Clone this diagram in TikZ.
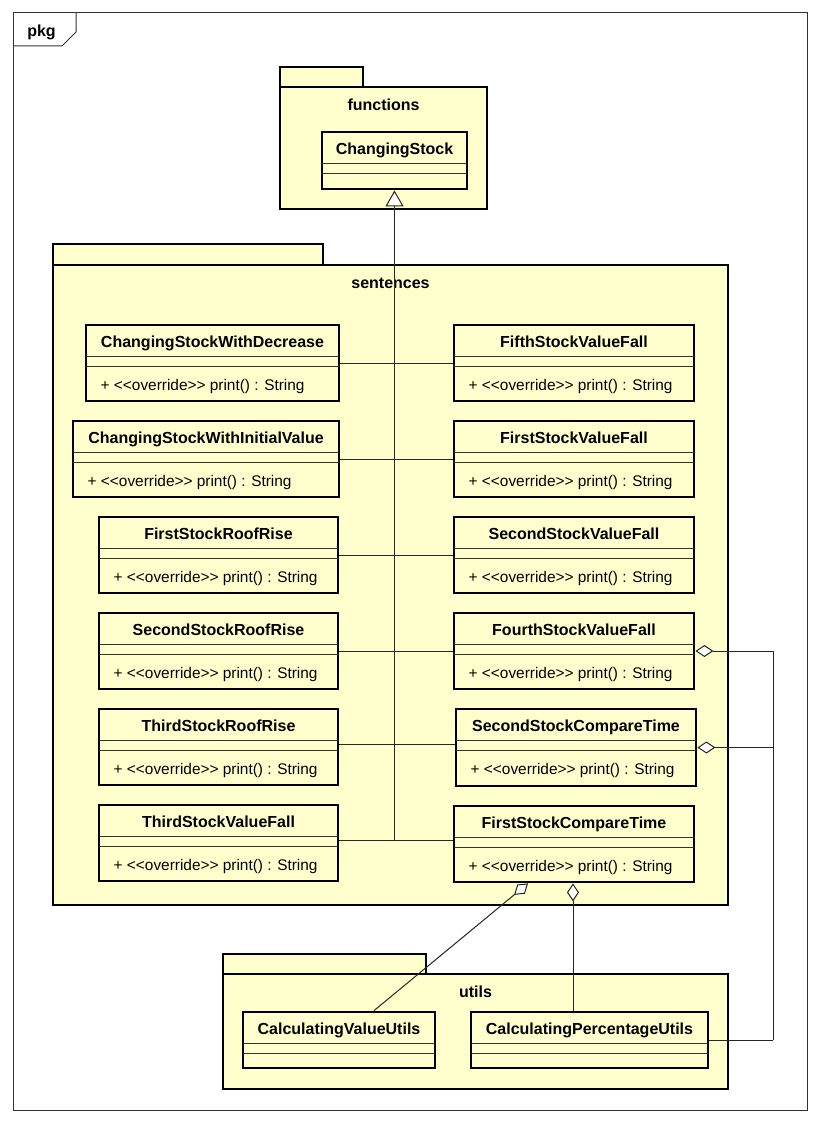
\documentclass[tikz,border=0pt]{standalone}
\usepackage{fontspec}
\setmainfont{Liberation Sans}
\usetikzlibrary{arrows.meta}
\definecolor{umlfill}{RGB}{255,255,206}

% operation text; the kerns keep the angle brackets from merging into guillemets
\newcommand\printop{+ <\kern0pt<override>\kern0pt> print() : String}

% class box with an empty attribute compartment and one operation
% #1 node name, #2 left, #3 top, #4 right, #5 bottom, #6 class name, #7 operation
\newcommand\umlclass[7]{%
  \node[classbox, minimum width={#4-#2}, minimum height={#5-#3}] (#1) at ({(#2+#4)/2},{(#3+#5)/2}) {};
  \draw[compline] (#2,{#3+31.5}) -- (#4,{#3+31.5});
  \draw[compline] (#2,{#3+41.5}) -- (#4,{#3+41.5});
  \node[classname] at ({(#2+#4)/2},{#3+22.5}) {#6};
  \node[optext] at ({#2+14.5},{#3+65}) {#7};
}
% class box with empty compartments only
\newcommand\umlclassplain[6]{%
  \node[classbox, minimum width={#4-#2}, minimum height={#5-#3}] (#1) at ({(#2+#4)/2},{(#3+#5)/2}) {};
  \draw[compline] (#2,{#3+31.5}) -- (#4,{#3+31.5});
  \draw[compline] (#2,{#3+41.5}) -- (#4,{#3+41.5});
  \node[classname] at ({(#2+#4)/2},{#3+22.5}) {#6};
}
% package: #1 name, #2 left, #3 tab top, #4 tab right, #5 body top, #6 right, #7 bottom, #8 label
\newcommand\umlpackage[8]{%
  \draw[pkgshape] (#2,#3) rectangle (#4,#5);
  \node[classbox, minimum width={#6-#2}, minimum height={#7-#5}] (#1) at ({(#2+#6)/2},{(#5+#7)/2}) {};
  \node[classname] at ({(#2+#6)/2},{#5+23}) {#8};
}

\begin{document}
\begin{tikzpicture}[x=1pt,y=-1pt,
  frame/.style={draw=black!80, line width=1pt},
  pkgshape/.style={draw=black, line width=2.8pt, fill=umlfill},
  classbox/.style={draw=black, line width=2.8pt, fill=umlfill, rectangle, inner sep=0pt},
  compline/.style={draw=black!80, line width=1pt},
  classname/.style={font=\fontsize{16}{18}\selectfont\bfseries, inner sep=0pt, anchor=base},
  optext/.style={font=\fontsize{15.4}{18}\selectfont, inner sep=0pt, anchor=base west},
  conn/.style={draw=black!85, line width=1pt},
  gen/.style={conn, -{Triangle[fill=white, length=16pt, width=18pt]}},
  agg/.style={conn, -{Diamond[fill=white, length=18pt, width=12pt]}},
]
\useasboundingbox (0,0) rectangle (820,1124);
\fill[white] (0,0) rectangle (820,1124);

% diagram frame with its name tab
\draw[frame] (13,13) rectangle (807,1110);
\draw[frame] (13,46) -- (62,46) -- (76,32) -- (76,13);
\node[classname] at (41.5,37) {pkg};

% packages
\umlpackage{functions}{280}{67}{363}{87}{487}{209}{functions}
\umlpackage{sentences}{53}{244}{323}{265}{728}{905}{sentences}
\umlpackage{utils}{223}{954}{426}{974}{728}{1089}{utils}

% classes
\umlclassplain{cs}{322}{132}{467}{189}{ChangingStock}

\umlclass{csd}{86}{325}{339}{401}{ChangingStockWithDecrease}{\printop}
\umlclass{csi}{73}{421}{339}{497}{ChangingStockWithInitialValue}{\printop}
\umlclass{fsr}{99}{517}{338}{593}{FirstStockRoofRise}{\printop}
\umlclass{ssr}{99}{613}{338}{689}{SecondStockRoofRise}{\printop}
\umlclass{tsr}{99}{709}{338}{785}{ThirdStockRoofRise}{\printop}
\umlclass{tsv}{99}{805}{338}{881}{ThirdStockValueFall}{\printop}

\umlclass{fiv}{454}{325}{694}{401}{FifthStockValueFall}{\printop}
\umlclass{fsv}{454}{421}{694}{497}{FirstStockValueFall}{\printop}
\umlclass{ssv}{454}{517}{694}{593}{SecondStockValueFall}{\printop}
\umlclass{fov}{454}{613}{694}{689}{FourthStockValueFall}{\printop}
\umlclass{ssc}{456}{709}{696}{786}{SecondStockCompareTime}{\printop}
\umlclass{fsc}{454}{806}{694}{882}{FirstStockCompareTime}{\printop}

\umlclassplain{cvu}{243}{1012}{435}{1068}{CalculatingValueUtils}
\umlclassplain{cpu}{471}{1012}{708}{1068}{CalculatingPercentageUtils}

% generalization trunk and the branches of each row
\coordinate (trunkbase) at (cs.south |- 0,840);
\draw[gen] (trunkbase) -- (cs.south);
\foreach \l/\r/\y in {csd/fiv/363, csi/fsv/459, fsr/ssv/555, ssr/fov/651, tsr/ssc/744, tsv/fsc/840}
  \draw[conn] (\l.east |- 0,\y) -- (\r.west |- 0,\y);

% aggregations towards the utility classes
\coordinate (bus) at (773,0 |- cpu.east);
\draw[conn] (cpu.east) -- (bus);
\draw[agg] (bus) |- (fov.east);
\draw[agg] (bus |- ssc.east) -- (ssc.east);
\draw[agg] (cpu.north -| 573,0) -- (fsc.south -| 573,0);
\draw[agg] (cvu.north -| 374,0) -- (fsc.south -| 528,0);

\end{tikzpicture}
\end{document}
